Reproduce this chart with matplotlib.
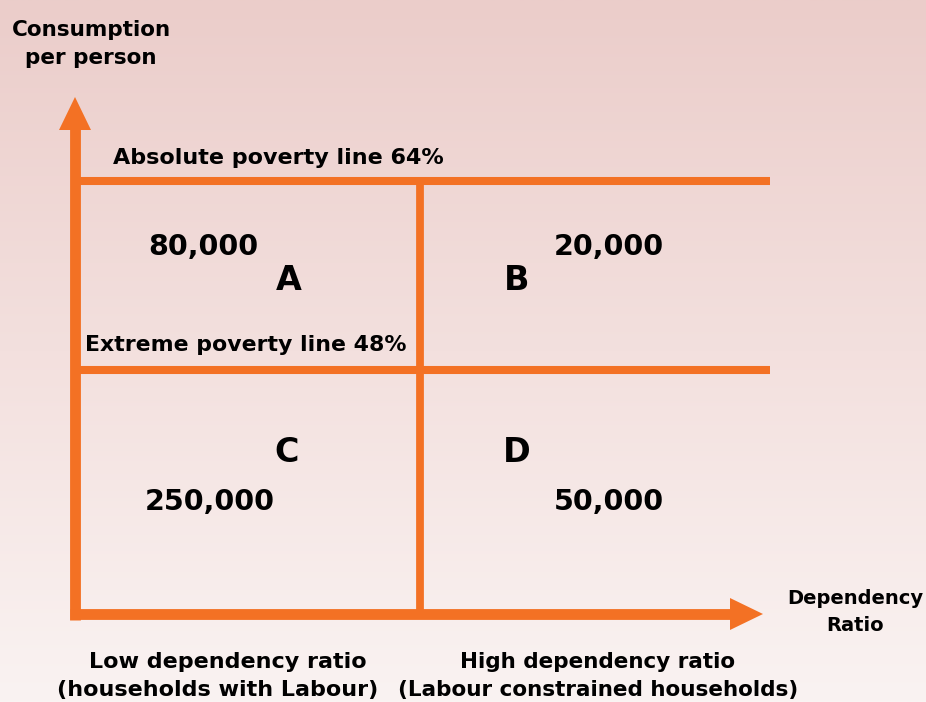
import numpy as np
import matplotlib.pyplot as plt
from matplotlib.colors import LinearSegmentedColormap

# quadrant data
quadrants = ["A", "B", "C", "D"]
households = [80000, 20000, 250000, 50000]
poverty_lines = ["Absolute poverty line 64%", "Extreme poverty line 48%"]
x_categories = [("Low dependency ratio", "(households with Labour)"),
                ("High dependency ratio", "(Labour constrained households)")]

ORANGE = "#f37124"
W, H = 926, 702

fig = plt.figure(figsize=(W / 100, H / 100), dpi=100)
ax = fig.add_axes([0, 0, 1, 1])
ax.set_xlim(0, W)
ax.set_ylim(H, 0)
ax.axis("off")

# background gradient
grad = LinearSegmentedColormap.from_list("bg", ["#ebcdca", "#f3e0de", "#faf3f2"])
ax.imshow(np.linspace(0, 1, 256).reshape(-1, 1), cmap=grad, aspect="auto",
          extent=(0, W, H, 0), zorder=0)

# layout (pixels)
x0, x_mid, x_end = 75, 420, 770
y_axis, y_top, y_ext = 614, 181, 370

# axes with arrows
ax.plot([x0, x0], [y_axis + 6, 125], color=ORANGE, lw=7.8, solid_capstyle="butt", zorder=2)
ax.fill([59, 91, 75], [130, 130, 97], color=ORANGE, lw=0, zorder=2)
ax.plot([x0 - 5, 732], [y_axis, y_axis], color=ORANGE, lw=7.8, solid_capstyle="butt", zorder=2)
ax.fill([730, 730, 763], [598, 630, 614], color=ORANGE, lw=0, zorder=2)

# poverty lines and divider
ax.plot([x0, x_end], [y_top, y_top], color=ORANGE, lw=5.8, solid_capstyle="butt", zorder=2)
ax.plot([x0, x_end], [y_ext, y_ext], color=ORANGE, lw=5.8, solid_capstyle="butt", zorder=2)
ax.plot([x_mid, x_mid], [y_top, y_axis], color=ORANGE, lw=5.6, solid_capstyle="butt", zorder=2)

bold = dict(fontweight="bold", family="DejaVu Sans", color="black", zorder=3)

ax.text(91, 44, "Consumption\nper person", ha="center", va="center",
        fontsize=15.5, linespacing=1.5, **bold)
ax.text(855, 612, "Dependency\nRatio", ha="center", va="center",
        fontsize=14, linespacing=1.55, **bold)

ax.text(113, 158, poverty_lines[0], ha="left", va="center", fontsize=16, **bold)
ax.text(85, 345, poverty_lines[1], ha="left", va="center", fontsize=15.8, **bold)

# category labels under the x axis
for (line1, line2), c1, c2, fs in zip(x_categories, [228, 598], [218, 598], [16, 15.5]):
    ax.text(c1, 662, line1, ha="center", va="center", fontsize=fs, **bold)
    ax.text(c2, 690, line2, ha="center", va="center", fontsize=fs, **bold)

# quadrant letters and counts
letter_pos = [(289, 281), (517, 281), (287, 452), (517, 452)]
count_pos = [(203, 247), (609, 247), (210, 502), (609, 502)]
for q, n, (lx, ly), (cx, cy) in zip(quadrants, households, letter_pos, count_pos):
    ax.text(lx, ly, q, ha="center", va="center", fontsize=24, **bold)
    ax.text(cx, cy, f"{n:,}", ha="center", va="center", fontsize=20.5, **bold)

fig.savefig("out.png", dpi=100)
